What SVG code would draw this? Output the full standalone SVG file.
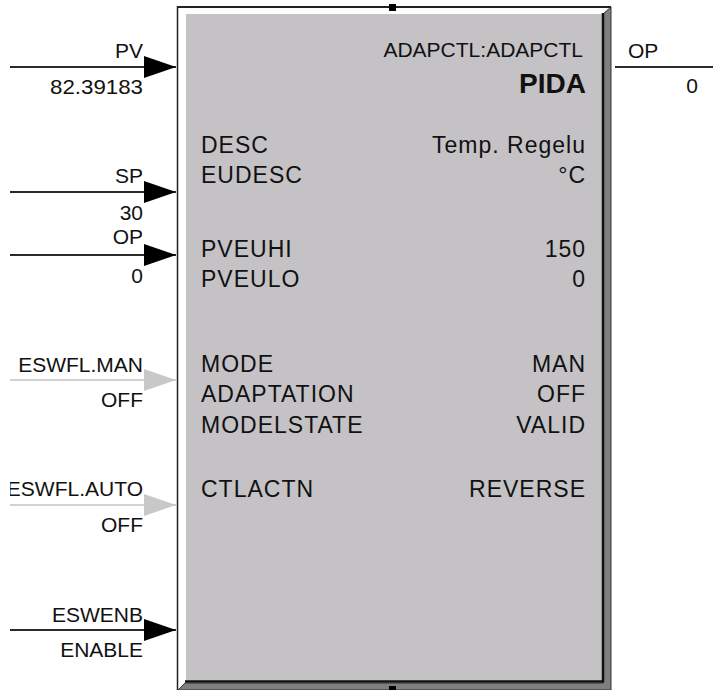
<svg xmlns="http://www.w3.org/2000/svg" width="713" height="690" viewBox="0 0 713 690">
<defs>
<style>
.lbl{font-family:"Liberation Sans",Arial,sans-serif;font-size:21px;fill:#111}
.body{font-family:"Liberation Sans",Arial,sans-serif;font-size:23px;fill:#111;letter-spacing:1px}
.end{text-anchor:end}
.wire{stroke:#2a2a2a;stroke-width:2;fill:none}
.wire-off{stroke:#d2d2d2;stroke-width:2;fill:none}
</style>
<marker id="arrB" viewBox="0 0 32 22" refX="32" refY="11" markerWidth="32" markerHeight="22" markerUnits="userSpaceOnUse" orient="auto">
<path d="M0,0 L32,11 L0,22 z" fill="#000"/>
</marker>
<marker id="arrG" viewBox="0 0 32 22" refX="32" refY="11" markerWidth="32" markerHeight="22" markerUnits="userSpaceOnUse" orient="auto">
<path d="M0,0 L32,11 L0,22 z" fill="#c8c8c8"/>
</marker>
<clipPath id="clipL"><rect x="10" y="0" width="703" height="690"/></clipPath>
</defs>
<rect width="713" height="690" fill="#fff"/>

<g id="block-PIDA">
<polygon points="603,14 611,7 611,690 178,690 185,683 603,683" fill="#7f7f7f" stroke="#333" stroke-width="1"/>
<rect x="186" y="14" width="417" height="667" fill="#c4c2c5"/>
<line x1="603" y1="13" x2="603" y2="682" stroke="#111" stroke-width="2.5"/>
<line x1="185" y1="681.5" x2="604" y2="681.5" stroke="#111" stroke-width="2.5"/>
<line x1="177" y1="7" x2="611" y2="7" stroke="#222" stroke-width="2"/>
<line x1="177.5" y1="6" x2="177.5" y2="690" stroke="#222" stroke-width="1.5"/>
<rect x="389" y="4" width="7" height="7" fill="#000"/>
<rect x="389" y="686" width="7" height="4" fill="#000"/>
<text class="lbl end" x="583" y="57">ADAPCTL:ADAPCTL</text>
<text x="586" y="93" text-anchor="end" font-family="'Liberation Sans',Arial,sans-serif" font-size="28" font-weight="bold" fill="#111">PIDA</text>
<text class="body" x="201" y="153">DESC</text>
<text class="body end" x="586" y="153">Temp. Regelu</text>
<text class="body" x="201" y="183">EUDESC</text>
<text class="body end" x="586" y="183">°C</text>
<text class="body" x="201" y="257">PVEUHI</text>
<text class="body end" x="586" y="257">150</text>
<text class="body" x="201" y="287">PVEULO</text>
<text class="body end" x="586" y="287">0</text>
<text class="body" x="201" y="372">MODE</text>
<text class="body end" x="586" y="372">MAN</text>
<text class="body" x="201" y="402">ADAPTATION</text>
<text class="body end" x="586" y="402">OFF</text>
<text class="body" x="201" y="433">MODELSTATE</text>
<text class="body end" x="586" y="433">VALID</text>
<text class="body" x="201" y="497">CTLACTN</text>
<text class="body end" x="586" y="497">REVERSE</text>
</g>

<g id="connectors">
<g id="in-PV">
<line class="wire" x1="10" y1="67" x2="176" y2="67" marker-end="url(#arrB)"/>
<text class="lbl end" x="143" y="58">PV</text>
<text class="lbl end" x="143" y="94" textLength="93" lengthAdjust="spacingAndGlyphs">82.39183</text>
</g>
<g id="in-SP">
<line class="wire" x1="10" y1="192" x2="176" y2="192" marker-end="url(#arrB)"/>
<text class="lbl end" x="143" y="183">SP</text>
<text class="lbl end" x="143" y="220">30</text>
</g>
<g id="in-OP">
<line class="wire" x1="10" y1="255" x2="176" y2="255" marker-end="url(#arrB)"/>
<text class="lbl end" x="143" y="244">OP</text>
<text class="lbl end" x="143" y="282.5">0</text>
</g>
<g id="in-ESWFL-MAN">
<line class="wire-off" x1="10" y1="380" x2="176" y2="380" marker-end="url(#arrG)"/>
<text class="lbl end" x="143" y="371.5">ESWFL.MAN</text>
<text class="lbl end" x="143" y="406.5">OFF</text>
</g>
<g id="in-ESWFL-AUTO">
<line class="wire-off" x1="10" y1="505" x2="176" y2="505" marker-end="url(#arrG)"/>
<text class="lbl end" x="143" y="496" clip-path="url(#clipL)">ESWFL.AUTO</text>
<text class="lbl end" x="143" y="531.5">OFF</text>
</g>
<g id="in-ESWENB">
<line class="wire" x1="10" y1="630" x2="176" y2="630" marker-end="url(#arrB)"/>
<text class="lbl end" x="143" y="621.5">ESWENB</text>
<text class="lbl end" x="143" y="656.5">ENABLE</text>
</g>
<g id="out-OP">
<line class="wire" x1="615" y1="67" x2="713" y2="67"/>
<text class="lbl" x="628" y="58">OP</text>
<text class="lbl end" x="698" y="93">0</text>
</g>
</g>
</svg>
